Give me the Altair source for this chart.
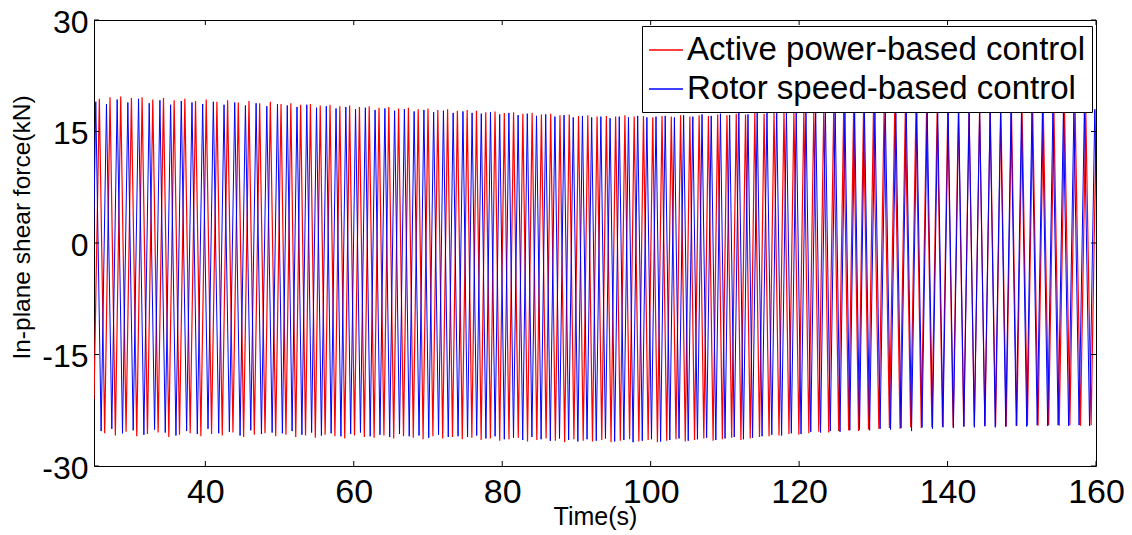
import altair as alt
import pandas as pd

series_names = ["Active power-based control", "Rotor speed-based control"]
series_colors = ["#ff0000", "#0000ff"]
x_ticks = [40, 60, 80, 100, 120, 140, 160]
y_ticks = [-30, -15, 0, 15, 30]

# ---- Active power-based control (red): extremes ----
red_peak_t = [25.72, 27.16, 28.60, 30.04, 31.48, 32.92, 34.36, 35.80, 37.24, 38.68, 40.12, 41.56, 43.00, 44.44, 45.88, 47.32, 48.76, 50.20,
              51.52, 52.84, 54.16, 55.48, 56.80, 58.12, 59.44, 60.76, 62.08, 63.40, 64.72, 66.04, 67.36, 68.68, 70.00, 71.32, 72.64, 73.96, 75.28,
              76.53, 77.78, 79.03, 80.28, 81.53, 82.78, 84.03, 85.28, 86.53, 87.78, 89.03, 90.28, 91.53, 92.78, 94.03, 95.28, 96.53, 97.78, 99.03, 100.28,
              101.53, 102.78, 104.03, 105.28, 106.53, 107.78, 109.03, 110.28, 111.53, 112.78, 114.03, 115.28,
              116.62, 117.96, 119.30, 120.64, 121.98, 123.32, 124.66, 126.00, 127.34, 128.68, 130.02,
              131.45, 132.88, 134.31, 135.74, 137.17, 138.60, 140.03, 141.46, 142.89, 144.32, 145.75, 147.18, 148.61, 150.04, 151.47, 152.90, 154.33,
              155.76, 157.19, 158.62, 160.05]
red_peak_v = [19.4, 19.6, 19.7, 19.5, 19.6, 19.3, 19.5, 19.2, 19.4, 19.1, 19.3, 19.0, 19.2, 18.9, 19.1, 18.8, 19.0, 18.7,
              18.8, 18.6, 18.7, 18.5, 18.6, 18.4, 18.5, 18.3, 18.4, 18.2, 18.3, 18.1, 18.2, 18.0, 18.1, 17.9, 18.0, 17.8, 17.9,
              17.8, 17.6, 17.7, 17.5, 17.6, 17.4, 17.5, 17.3, 17.4, 17.2, 17.3, 17.1, 17.2, 17.0, 17.1, 17.0, 17.2, 17.0, 17.1, 16.9,
              17.1, 17.0, 17.2, 17.0, 17.2, 17.1, 17.3, 17.2, 17.4, 17.3, 17.5, 17.4,
              17.5, 17.6, 17.5, 17.7, 17.6, 17.7, 17.8, 17.7, 17.8, 17.8, 17.9,
              17.8, 17.9, 17.8, 17.9, 17.8, 17.9, 17.8, 17.9, 17.8, 17.9, 17.8, 17.9, 17.8, 17.9, 17.8, 17.9, 17.8,
              17.9, 17.8, 17.9, 17.8]
red_trough_t = [25.00,
                26.44, 27.88, 29.32, 30.76, 32.20, 33.64, 35.08, 36.52, 37.96, 39.40, 40.84, 42.28, 43.72, 45.16, 46.60, 48.04, 49.48,
                50.86, 52.18, 53.50, 54.82, 56.14, 57.46, 58.78, 60.10, 61.42, 62.74, 64.06, 65.38, 66.70, 68.02, 69.34, 70.66, 71.98, 73.30, 74.62,
                75.91, 77.16, 78.41, 79.66, 80.91, 82.16, 83.41, 84.66, 85.91, 87.16, 88.41, 89.66, 90.91, 92.16, 93.41, 94.66, 95.91, 97.16, 98.41, 99.66,
                100.91, 102.16, 103.41, 104.66, 105.91, 107.16, 108.41, 109.66, 110.91, 112.16, 113.41, 114.66,
                115.95, 117.29, 118.63, 119.97, 121.31, 122.65, 123.99, 125.33, 126.67, 128.01, 129.35,
                130.74, 132.17, 133.60, 135.03, 136.46, 137.89, 139.32, 140.75, 142.18, 143.61, 145.04, 146.47, 147.90, 149.33, 150.76, 152.19, 153.62,
                155.05, 156.48, 157.91, 159.34]
red_trough_v = [-21.0,
                -25.6, -25.9, -25.4, -26.0, -25.7, -25.5, -26.1, -25.8, -25.6, -26.0, -25.7, -25.9, -25.5, -26.1, -25.8, -25.6, -26.0,
                -25.8, -26.1, -25.9, -26.2, -25.8, -26.0, -26.3, -25.9, -26.1, -26.2, -25.9, -26.3, -26.0, -26.2, -26.4, -26.0, -26.3, -26.1, -26.4,
                -26.2, -26.5, -26.3, -26.6, -26.4, -26.2, -26.7, -26.5, -26.3, -26.6, -26.8, -26.4, -26.6, -26.7, -26.5, -26.8, -26.6, -26.4, -26.7, -26.5,
                -26.8, -26.6, -26.4, -26.7, -26.5, -26.3, -26.6, -26.4, -26.2, -26.5, -26.3, -26.1,
                -26.0, -25.9, -25.7, -25.8, -25.6, -25.4, -25.5, -25.3, -25.2, -25.3, -25.1,
                -25.0, -24.9, -25.0, -24.8, -24.9, -24.8, -24.7, -24.8, -24.7, -24.6, -24.7, -24.6, -24.7, -24.6, -24.5, -24.6, -24.5,
                -24.6, -24.5, -24.6, -24.5]

# ---- Rotor speed-based control (blue): extremes ----
blue_peak_t = [25.24, 26.68, 28.12, 29.56, 31.00, 32.44, 33.88, 35.32, 36.76, 38.20, 39.64, 41.08, 42.52, 43.96, 45.40, 46.84, 48.28, 49.72,
               51.04, 52.35, 53.67, 54.98, 56.30, 57.61, 58.93, 60.24, 61.56, 62.87, 64.19, 65.50, 66.82, 68.13, 69.45, 70.76, 72.08, 73.39, 74.71,
               75.94, 77.18, 78.42, 79.66, 80.90, 82.14, 83.38, 84.62, 85.86, 87.10, 88.33, 89.57, 90.81, 92.05, 93.29, 94.53, 95.77, 97.01, 98.25, 99.49,
               100.72, 101.96, 103.20, 104.44, 105.68, 106.92, 108.16, 109.40, 110.64, 111.88, 113.11, 114.35,
               115.67, 116.98, 118.29, 119.61, 120.92, 122.23, 123.54, 124.86, 126.17, 127.48, 128.80,
               130.21, 131.62, 133.03, 134.44, 135.85, 137.26, 138.67, 140.08, 141.50, 142.91, 144.32, 145.73, 147.14, 148.55, 149.96, 151.37, 152.78,
               154.19, 155.61, 157.02, 158.43, 159.84]
blue_peak_v = [19.0, 18.7, 19.3, 18.9, 19.4, 18.8, 19.2, 18.6, 19.1, 18.9, 18.7, 19.0, 18.6, 18.9, 18.5, 18.8, 18.4, 18.7,
               18.5, 18.3, 18.6, 18.2, 18.4, 18.1, 18.3, 18.0, 18.2, 17.9, 18.1, 17.8, 18.0, 17.7, 17.9, 17.6, 17.8, 17.5, 17.7,
               17.5, 17.4, 17.6, 17.3, 17.5, 17.2, 17.4, 17.1, 17.3, 17.0, 17.2, 16.9, 17.1, 16.9, 17.0, 16.8, 17.0, 16.9, 17.1, 16.9,
               17.0, 17.1, 16.9, 17.2, 17.0, 17.3, 17.1, 17.4, 17.2, 17.5, 17.3, 17.5,
               17.6, 17.5, 17.7, 17.6, 17.7, 17.8, 17.7, 17.8, 17.9, 17.8, 17.9,
               17.8, 17.7, 17.8, 17.7, 17.8, 17.7, 17.8, 17.7, 17.8, 17.7, 17.8, 17.7, 17.8, 17.7, 17.8, 17.7, 17.8,
               17.7, 17.8, 17.7, 17.8, 18.0]
blue_trough_t = [24.52,
                 25.96, 27.40, 28.84, 30.28, 31.72, 33.16, 34.60, 36.04, 37.48, 38.92, 40.36, 41.80, 43.24, 44.68, 46.12, 47.56, 49.00,
                 50.38, 51.69, 53.01, 54.32, 55.64, 56.95, 58.27, 59.58, 60.90, 62.21, 63.53, 64.84, 66.16, 67.47, 68.79, 70.10, 71.42, 72.73, 74.05,
                 75.33, 76.56, 77.80, 79.04, 80.28, 81.52, 82.76, 84.00, 85.24, 86.48, 87.72, 88.95, 90.19, 91.43, 92.67, 93.91, 95.15, 96.39, 97.63, 98.87,
                 100.11, 101.34, 102.58, 103.82, 105.06, 106.30, 107.54, 108.78, 110.02, 111.26, 112.50, 113.73,
                 115.01, 116.32, 117.64, 118.95, 120.26, 121.57, 122.89, 124.20, 125.51, 126.83, 128.14,
                 129.50, 130.91, 132.32, 133.73, 135.15, 136.56, 137.97, 139.38, 140.79, 142.20, 143.61, 145.02, 146.43, 147.84, 149.26, 150.67, 152.08,
                 153.49, 154.90, 156.31, 157.72, 159.13, 160.55]
blue_trough_v = [-25.2,
                 -25.3, -25.0, -25.6, -25.2, -25.8, -25.1, -25.5, -25.9, -25.3, -25.7, -25.0, -25.6, -25.4, -25.9, -25.2, -25.7, -25.5,
                 -25.6, -25.3, -25.8, -25.5, -25.9, -25.6, -26.0, -25.7, -25.5, -26.0, -25.8, -26.1, -25.7, -26.0, -25.9, -26.2, -25.8, -26.1, -26.0,
                 -26.1, -25.9, -26.3, -26.0, -26.4, -26.2, -26.5, -26.1, -26.4, -26.6, -26.3, -26.5, -26.7, -26.4, -26.6, -26.3, -26.7, -26.5, -26.8, -26.6,
                 -26.4, -26.7, -26.5, -26.3, -26.6, -26.4, -26.2, -26.5, -26.3, -26.1, -26.4, -26.2,
                 -26.0, -25.8, -25.9, -25.6, -25.7, -25.4, -25.5, -25.3, -25.4, -25.2, -25.1,
                 -25.2, -25.0, -25.1, -24.9, -25.3, -24.8, -25.0, -24.8, -24.9, -24.7, -24.8, -24.6, -24.8, -24.7, -24.6, -24.7, -24.5,
                 -24.6, -24.5, -24.6, -24.5, -24.6, -24.5]


def build(pt, pv, tt, tv, name):
    assert len(pt) == len(pv), (name, len(pt), len(pv))
    assert len(tt) == len(tv), (name, len(tt), len(tv))
    rows = list(zip(pt, pv)) + list(zip(tt, tv))
    df = pd.DataFrame(rows, columns=["t", "v"]).sort_values("t").reset_index(drop=True)
    df["series"] = name
    return df


red_df = build(red_peak_t, red_peak_v, red_trough_t, red_trough_v, series_names[0])
blue_df = build(blue_peak_t, blue_peak_v, blue_trough_t, blue_trough_v, series_names[1])

FONT = "Liberation Sans"
W, H = 1002, 446

x_scale = alt.Scale(domain=[25, 160], nice=False, zero=False)
y_scale = alt.Scale(domain=[-30, 30], nice=False, zero=False)
color_scale = alt.Scale(domain=series_names, range=series_colors)

legend = alt.Legend(
    title=None, orient="none", legendX=548, legendY=6,
    symbolType="stroke", symbolSize=1156, symbolStrokeWidth=1.5,
    labelFont=FONT, labelFontSize=33, labelColor="black", labelLimit=700,
    labelOffset=3, padding=6, rowPadding=4,
    strokeColor="black", fillColor="white",
)

x_axis = alt.Axis(
    values=x_ticks, title="Time(s)", grid=False, domain=False, ticks=False, tickSize=0,
    labelFont=FONT, labelFontSize=34, labelPadding=9, labelFlush=False, labelOverlap=False,
    labelColor="black", titleFont=FONT, titleFontSize=25, titleFontWeight="normal",
    titleColor="black", titleBaseline="top", titleY=38,
)
y_axis = alt.Axis(
    values=y_ticks, title="In-plane shear force(kN)", grid=False, domain=False, ticks=False, tickSize=0,
    labelFont=FONT, labelFontSize=32, labelPadding=6, labelOffset=2, labelOverlap=False, labelColor="black",
    labelExpr="replace(datum.label, '\u2212', '-')",
    titleFont=FONT, titleFontSize=24.5, titleFontWeight="normal", titleColor="black",
    titleAngle=270, titleAlign="center", titleBaseline="middle", titleX=-72, titleY=207,
)


def line_layer(df, width):
    return alt.Chart(df).mark_line(strokeWidth=width, clip=True).encode(
        x=alt.X("t:Q", scale=x_scale, axis=x_axis),
        y=alt.Y("v:Q", scale=y_scale, axis=y_axis),
        color=alt.Color("series:N", scale=color_scale, legend=legend),
    )


xt = pd.DataFrame({"t": x_ticks})
yt = pd.DataFrame({"v": y_ticks})
tick_bottom = alt.Chart(xt).mark_rule(color="black", strokeWidth=1).encode(
    x=alt.X("t:Q", scale=x_scale), y=alt.value(H), y2=alt.value(H - 5))
tick_top = alt.Chart(xt).mark_rule(color="black", strokeWidth=1).encode(
    x=alt.X("t:Q", scale=x_scale), y=alt.value(0), y2=alt.value(5))
tick_left = alt.Chart(yt).mark_rule(color="black", strokeWidth=1).encode(
    y=alt.Y("v:Q", scale=y_scale), x=alt.value(0), x2=alt.value(5))
tick_right = alt.Chart(yt).mark_rule(color="black", strokeWidth=1).encode(
    y=alt.Y("v:Q", scale=y_scale), x=alt.value(W), x2=alt.value(W - 5))

chart = alt.layer(
    line_layer(red_df, 1.2), line_layer(blue_df, 1.0), tick_bottom, tick_top, tick_left, tick_right
).properties(
    width=W, height=H,
    padding={"left": 86, "top": 12, "right": 28, "bottom": 67},
    autosize=alt.AutoSizeParams(type="none"),
    background="white",
).configure_view(stroke="black", strokeWidth=1)

chart.save("out.html", embed_options={"renderer": "svg", "actions": False})
